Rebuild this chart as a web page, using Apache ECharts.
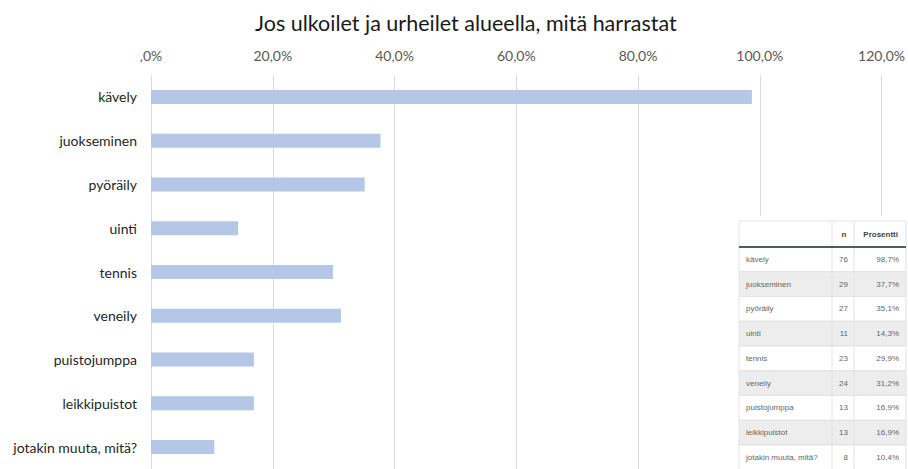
<!DOCTYPE html>
<html>
<head>
<meta charset="utf-8">
<script src="https://cdn.jsdelivr.net/npm/echarts@6/dist/echarts.min.js"></script>
<style>
  html, body { margin: 0; padding: 0; background: #fff; }
  #chart { width: 908px; height: 469px; }
</style>
</head>
<body>
<div id="chart"></div>
<script>
// harrastukset ja vastaukset
var categories = ['kävely', 'juokseminen', 'pyöräily', 'uinti', 'tennis', 'veneily', 'puistojumppa', 'leikkipuistot', 'jotakin muuta, mitä?']
var counts = [76, 29, 27, 11, 23, 24, 13, 13, 8]
var percents = [98.7, 37.7, 35.1, 14.3, 29.9, 31.2, 16.9, 16.9, 10.4]
var tableHeader = ['', 'n', 'Prosentti']

var fontFamily = 'Lato, "Open Sans", sans-serif'
var tableFont = '"Liberation Sans", Arial, sans-serif'

function fmtPct(v) {
  // excel-muoto #,0%
  return v === 0 ? ',0%' : String(v).replace('.', ',') + ',0%'
}

// taulukko oikeaan alakulmaan (graphic)
function buildTable() {
  var y0 = 221
  var colX = [739, 832, 854, 906]
  var headH = 26
  var rowH = 24.75
  var txtColor = '#666'
  var els = []
  els.push({ type: 'rect', shape: { x: 734, y: 216, width: 174, height: 253 }, style: { fill: '#fff' }, z: 10 })
  categories.forEach(function (c, i) {
    var top = y0 + headH + i * rowH
    els.push({
      type: 'rect',
      shape: { x: colX[0], y: top, width: colX[3] - colX[0], height: rowH },
      style: { fill: i % 2 === 1 ? '#ededed' : '#fff', stroke: '#e3e3e3', lineWidth: 1 },
      z: 11
    })
    els.push({ type: 'text', x: colX[0] + 7, y: top + rowH / 2, style: { text: c, fill: txtColor, font: '8px ' + tableFont, verticalAlign: 'middle' }, z: 13 })
    els.push({ type: 'text', x: colX[2] - 6, y: top + rowH / 2, style: { text: String(counts[i]), fill: txtColor, font: '8px ' + tableFont, align: 'right', verticalAlign: 'middle' }, z: 13 })
    els.push({ type: 'text', x: colX[3] - 7, y: top + rowH / 2, style: { text: String(percents[i]).replace('.', ',') + '%', fill: txtColor, font: '8px ' + tableFont, align: 'right', verticalAlign: 'middle' }, z: 13 })
  })
  // otsikkorivi
  els.push({ type: 'rect', shape: { x: colX[0], y: y0, width: colX[3] - colX[0], height: headH }, style: { fill: '#fff', stroke: '#e3e3e3', lineWidth: 1 }, z: 11 })
  els.push({ type: 'text', x: (colX[1] + colX[2]) / 2 + 1, y: y0 + headH / 2, style: { text: tableHeader[1], fill: '#444', font: 'bold 8px ' + tableFont, align: 'center', verticalAlign: 'middle' }, z: 13 })
  els.push({ type: 'text', x: colX[3] - 8, y: y0 + headH / 2, style: { text: tableHeader[2], fill: '#444', font: 'bold 8px ' + tableFont, align: 'right', verticalAlign: 'middle' }, z: 13 })
  // sarakeviivat
  ;[colX[1], colX[2]].forEach(function (cx) {
    els.push({ type: 'line', shape: { x1: cx, y1: y0, x2: cx, y2: 469 }, style: { stroke: '#e3e3e3', lineWidth: 1 }, z: 12 })
  })
  els.push({ type: 'line', shape: { x1: colX[0], y1: y0 + headH, x2: colX[3], y2: y0 + headH }, style: { stroke: '#4b5d69', lineWidth: 2 }, z: 12 })
  return els
}

var chart = echarts.init(document.getElementById('chart'), null, { renderer: 'svg' })
chart.setOption({
  animation: false,
  title: {
    text: 'Jos ulkoilet ja urheilet alueella, mitä harrastat',
    left: 250,
    top: 7,
    textStyle: { fontFamily: fontFamily, fontSize: 21.5, fontWeight: 'normal', color: '#1a1a1a' }
  },
  grid: { left: 151, right: 23, top: 75, bottom: 0, containLabel: false },
  xAxis: {
    type: 'value',
    position: 'top',
    min: 0,
    max: 120,
    interval: 20,
    axisLine: { show: false },
    axisTick: { show: false },
    axisLabel: { formatter: fmtPct, color: '#595959', fontFamily: fontFamily, fontSize: 14, margin: 13 },
    splitLine: { lineStyle: { color: '#d9d9d9', width: 1 } }
  },
  yAxis: {
    type: 'category',
    inverse: true,
    data: categories,
    axisLine: { show: false },
    axisTick: { show: false },
    axisLabel: { color: '#262626', fontFamily: fontFamily, fontSize: 14, margin: 14 }
  },
  series: [{
    type: 'bar',
    data: percents,
    barWidth: 14,
    itemStyle: { color: '#b4c7e7' }
  }],
  graphic: buildTable()
})
</script>
</body>
</html>
